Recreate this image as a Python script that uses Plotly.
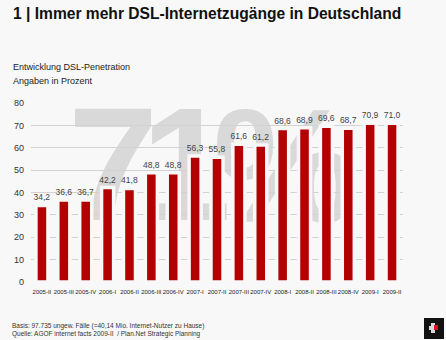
import plotly.graph_objects as go

categories = ["2005-II", "2005-III", "2005-IV", "2006-I", "2006-II", "2006-III", "2006-IV",
              "2007-I", "2007-II", "2007-III", "2007-IV", "2008-I", "2008-II", "2008-III",
              "2008-IV", "2009-I", "2009-II"]
values = [34.2, 36.6, 36.7, 42.2, 41.8, 48.8, 48.8, 56.3, 55.8, 61.6, 61.2,
          68.6, 68.9, 69.6, 68.7, 70.9, 71.0]

title_text = "1 | Immer mehr DSL-Internetzugänge in Deutschland"
subtitle_lines = ["Entwicklung DSL-Penetration", "Angaben in Prozent"]
footer_lines = ["Basis: 97.735 ungew. Fälle (=40,14 Mio. Internet-Nutzer zu Hause)",
                "Quelle: AGOF internet facts 2009-II  / Plan.Net Strategic Planning"]
y_ticks = [0, 10, 20, 30, 40, 50, 60, 70, 80]

W, H = 446, 340
L, R, T, B = 31, 43, 103, 58
BG = "#f8f8f8"
RED = "#b30000"
FONT = "Liberation Sans, Arial, sans-serif"

pw = W - L - R
ph = H - T - B


def px(x):
    return (x - L) / pw


def py(y):
    return (H - B - y) / ph


fig = go.Figure()
fig.add_trace(go.Bar(
    x=categories, y=values,
    marker=dict(color=RED, line=dict(color=BG, width=3.5)),
    texttemplate="%{y:.1f}", textposition="outside", constraintext="none",
    textfont=dict(size=8.5, color="#444444", family=FONT),
    cliponaxis=False,
))

shapes = []
# watermark "71%"
for ch, cx, cy, size in [("7", 113, 148, 162), ("1", 186, 148, 162), ("%", 285, 150, 162)]:
    shapes.append(dict(
        type="rect", xref="paper", yref="paper", layer="below",
        x0=px(cx - 40), x1=px(cx + 40), y0=py(cy + 40), y1=py(cy - 40),
        line=dict(width=0), fillcolor="rgba(0,0,0,0)",
        label=dict(text=ch, textposition="middle center",
                   font=dict(size=size, color="#d9d9d9",
                             family="Liberation Sans, Arial",
                             weight="bold")),
    ))
# logo
shapes.append(dict(type="rect", xref="paper", yref="paper",
                   x0=px(424), x1=px(444), y0=py(339), y1=py(318),
                   fillcolor="#111111", line=dict(width=0)))
shapes.append(dict(type="rect", xref="paper", yref="paper",
                   x0=px(429), x1=px(437), y0=py(330), y1=py(326),
                   fillcolor="#d8d8d8", line=dict(width=0)))
shapes.append(dict(type="rect", xref="paper", yref="paper",
                   x0=px(431), x1=px(435), y0=py(333), y1=py(323),
                   fillcolor="#d8d8d8", line=dict(width=0)))
shapes.append(dict(type="rect", xref="paper", yref="paper",
                   x0=px(434), x1=px(438), y0=py(330), y1=py(325),
                   fillcolor="#e01020", line=dict(width=0)))

annotations = [
    dict(text="<b>" + title_text + "</b>", x=px(11), y=py(13), xref="paper", yref="paper",
         xanchor="left", yanchor="middle", showarrow=False,
         font=dict(size=15.6, color="#111111", family=FONT)),
]
for i, line in enumerate(subtitle_lines):
    annotations.append(dict(text=line, x=px(11), y=py(67 + 13.5 * i), xref="paper", yref="paper",
                            xanchor="left", yanchor="middle", showarrow=False,
                            font=dict(size=9, color="#222222", family=FONT)))
for i, line in enumerate(footer_lines):
    annotations.append(dict(text=line, x=px(10), y=py(326 + 8 * i), xref="paper", yref="paper",
                            xanchor="left", yanchor="middle", showarrow=False,
                            font=dict(size=6.5, color="#333333", family=FONT)))

fig.update_layout(
    width=W, height=H,
    margin=dict(l=L, r=R, t=T, b=B, pad=0),
    paper_bgcolor=BG, plot_bgcolor=BG,
    separators=",.",
    bargap=0.45,
    showlegend=False,
    shapes=shapes,
    annotations=annotations,
    font=dict(family=FONT),
)
fig.update_xaxes(type="category", tickangle=0, showgrid=False, showline=False,
                 ticks="", tickfont=dict(size=6, color="#222222", family=FONT),
                 ticklabelstandoff=5, range=[-0.5, 16.5])
fig.update_yaxes(range=[0, 80], tickvals=y_ticks, showgrid=True, gridcolor="#d2d2d2",
                 gridwidth=1.3, zeroline=False, showline=False, ticks="",
                 tickfont=dict(size=9, color="#333333", family=FONT), ticklabelstandoff=6)

fig.write_html("out.html")
